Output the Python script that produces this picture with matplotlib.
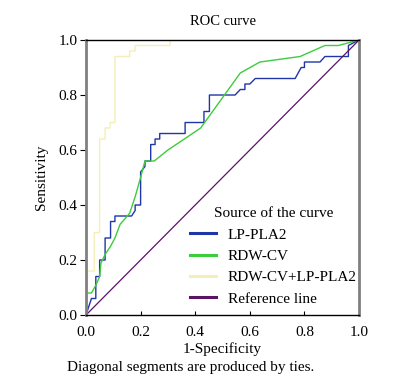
import matplotlib
matplotlib.use("Agg")
import matplotlib.pyplot as plt

plt.rcParams["font.family"] = ["Liberation Serif", "DejaVu Serif"]

# ── ROC points (1-Specificity, Sensitivity) ─────────────────────────────────
lp_fpr = [0, 0.02, 0.036, 0.036, 0.05, 0.05, 0.07, 0.07, 0.09, 0.09, 0.106, 0.106,
          0.167, 0.18, 0.18, 0.2, 0.2, 0.216, 0.216, 0.237, 0.237, 0.253, 0.253,
          0.27, 0.27, 0.363, 0.363, 0.432, 0.432, 0.452, 0.452, 0.546, 0.565,
          0.582, 0.582, 0.6, 0.62, 0.766, 0.788, 0.80, 0.80, 0.857, 0.875,
          0.961, 0.961, 0.98, 1.0]
lp_tpr = [0, 0.06, 0.06, 0.14, 0.14, 0.20, 0.20, 0.28, 0.28, 0.34, 0.34, 0.36,
          0.36, 0.38, 0.40, 0.40, 0.52, 0.54, 0.56, 0.56, 0.62, 0.62, 0.64,
          0.64, 0.66, 0.66, 0.70, 0.70, 0.74, 0.74, 0.80, 0.80, 0.82,
          0.82, 0.84, 0.84, 0.86, 0.86, 0.90, 0.90, 0.92, 0.92, 0.94,
          0.94, 0.98, 0.99, 1.0]

rdw_fpr = [0, 0, 0.02, 0.037, 0.05, 0.055, 0.07, 0.09, 0.106, 0.125, 0.16, 0.18,
           0.2, 0.216, 0.25, 0.3, 0.42, 0.565, 0.637, 0.784, 0.875, 0.924, 1.0]
rdw_tpr = [0, 0.08, 0.08, 0.11, 0.14, 0.19, 0.22, 0.25, 0.28, 0.33, 0.37, 0.43,
           0.5, 0.56, 0.56, 0.6, 0.68, 0.88, 0.92, 0.94, 0.98, 0.98, 1.0]

comb_fpr = [0, 0.005, 0.005, 0.03, 0.03, 0.05, 0.05, 0.07, 0.07, 0.088, 0.088,
            0.106, 0.106, 0.16, 0.16, 0.18, 0.18, 0.308, 0.308, 1.0]
comb_tpr = [0, 0.05, 0.16, 0.16, 0.30, 0.30, 0.64, 0.64, 0.68, 0.68, 0.70,
            0.70, 0.94, 0.94, 0.96, 0.96, 0.98, 0.98, 1.0, 1.0]

ref_x = [0, 1]
ref_y = [0, 1]

ticks = [0.0, 0.2, 0.4, 0.6, 0.8, 1.0]

fig = plt.figure(figsize=(4.18, 3.81), dpi=100)
ax = fig.add_axes([0.2057, 0.1732, 0.6533, 0.7218])

ax.plot(lp_fpr, lp_tpr, color="#1f35a8", lw=1.0, label="LP-PLA2")
ax.plot(rdw_fpr, rdw_tpr, color="#3ccc3c", lw=1.0, label="RDW-CV")
ax.plot(comb_fpr, comb_tpr, color="#f4efb8", lw=1.0, label="RDW-CV+LP-PLA2")
ax.plot(ref_x, ref_y, color="#5a1466", lw=0.9, label="Reference line")

ax.set_xlim(0, 1)
ax.set_ylim(0, 1)
ax.set_xticks(ticks)
ax.set_yticks(ticks)
ax.set_xticklabels([f"{t:.1f}" for t in ticks], fontsize=11)
ax.set_yticklabels([f"{t:.1f}" for t in ticks], fontsize=11)
ax.tick_params(axis="x", direction="in", length=3, pad=8, color="black")
ax.tick_params(axis="y", direction="out", length=4, pad=2, color="black")

for side in ("left", "right"):
    ax.spines[side].set_color("#808080")
    ax.spines[side].set_linewidth(2.0)
for side in ("top", "bottom"):
    ax.spines[side].set_color("black")
    ax.spines[side].set_linewidth(1.0)

ax.set_title("ROC curve", fontsize=10.5, pad=11)
ax.set_ylabel("Sensitivity", fontsize=11, labelpad=8)
ax.set_xlabel("1-Specificity", fontsize=11, labelpad=2)
fig.text(0.455, 0.035, "Diagonal segments are produced by ties.", fontsize=11,
         ha="center", va="center")

leg = ax.legend(title="Source of the curve", loc="lower right",
                bbox_to_anchor=(1.03, -0.005), frameon=False, fontsize=11,
                title_fontsize=11, handlelength=1.7, handletextpad=0.75,
                labelspacing=0.5, borderaxespad=0.3)
for line in leg.get_lines():
    line.set_linewidth(2.2)

fig.savefig("out.png", dpi=100)
